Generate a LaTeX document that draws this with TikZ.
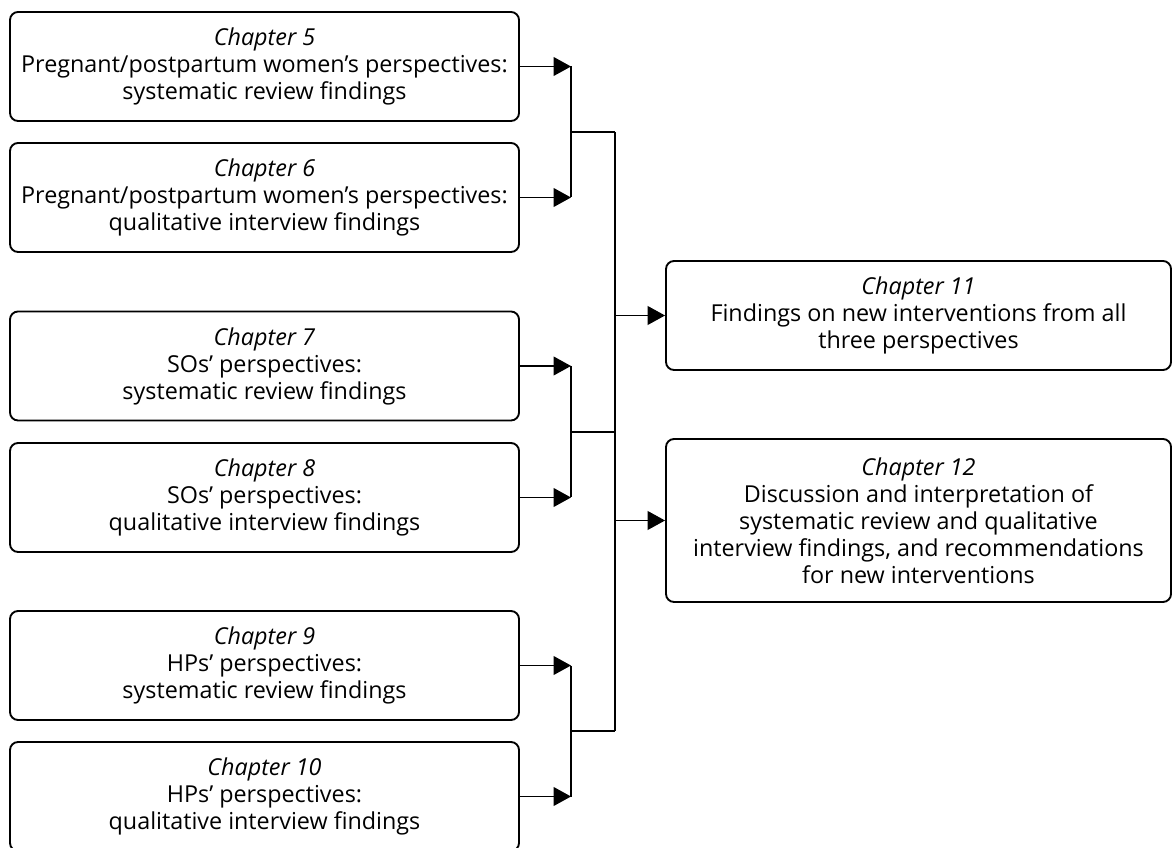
\documentclass[tikz,border=0pt]{standalone}
\usepackage{fontspec}
\setmainfont{Open Sans}
\usetikzlibrary{arrows.meta}
\begin{document}
\begin{tikzpicture}[x=0.75pt,y=-0.75pt,
  chbox/.style={draw=black,line width=1.4pt,rounded corners=6pt,inner sep=0pt,
    align=center,font=\fontsize{17.5pt}{20.25pt}\selectfont},
  leftbox/.style={chbox,minimum width=381.75pt,minimum height=81.75pt},
  feed/.style={line width=1.2pt,-{Triangle[length=13pt,width=14pt]}},
  bar/.style={line width=1.5pt},
  joinline/.style={line width=1.1pt}]
\clip (0,0) rectangle (1172,848);
% left boxes
\node[leftbox] (b5) at (264.5,66.5) {\textit{Chapter 5}\\Pregnant/postpartum women’s perspectives:\\systematic review findings};
\node[leftbox] (b6) at (264.5,197.5) {\textit{Chapter 6}\\Pregnant/postpartum women’s perspectives:\\qualitative interview findings};
\node[leftbox] (b7) at (264.5,366) {\textit{Chapter 7}\\SOs’ perspectives:\\systematic review findings};
\node[leftbox] (b8) at (264.5,497.5) {\textit{Chapter 8}\\SOs’ perspectives:\\qualitative interview findings};
\node[leftbox] (b9) at (264.5,665.5) {\textit{Chapter 9}\\HPs’ perspectives:\\systematic review findings};
\node[leftbox] (b10) at (264.5,796.5) {\textit{Chapter 10}\\HPs’ perspectives:\\qualitative interview findings};
% right boxes
\node[chbox,minimum width=378.75pt,minimum height=81.75pt] (c11) at (918.5,315.5) {\textit{Chapter 11}\\Findings on new interventions from all\\three perspectives};
\node[chbox,minimum width=378.75pt,minimum height=122.25pt] (c12) at (918.5,520.5) {\textit{Chapter 12}\\Discussion and interpretation of\\systematic review and qualitative\\interview findings, and recommendations\\for new interventions};
% junction coordinates
\coordinate (j1) at (571,132);
\coordinate (j2) at (571,432);
\coordinate (j3) at (571,731);
\coordinate (m1) at (615,132);
\coordinate (m3) at (615,731);
% feeds into bars
\draw[feed] (b5.east) -- (b5.east -| j1);
\draw[feed] (b6.east) -- (b6.east -| j1);
\draw[feed] (b7.east) -- (b7.east -| j2);
\draw[feed] (b8.east) -- (b8.east -| j2);
\draw[feed] (b9.east) -- (b9.east -| j3);
\draw[feed] (b10.east) -- (b10.east -| j3);
% bars
\draw[bar] (b5.east -| j1) -- (b6.east -| j1);
\draw[bar] (b7.east -| j2) -- (b8.east -| j2);
\draw[bar] (b9.east -| j3) -- (b10.east -| j3);
% joins
\draw[joinline] (j1) -- (m1);
\draw[joinline] (j2) -- (j2 -| m1);
\draw[joinline] (j3) -- (m3);
\draw[joinline] (m1) -- (m3);
% outputs
\draw[feed,line width=1.1pt] (c11.west -| m1) -- (c11.west);
\draw[feed,line width=1.1pt] (c12.west -| m1) -- (c12.west);
\end{tikzpicture}
\end{document}
